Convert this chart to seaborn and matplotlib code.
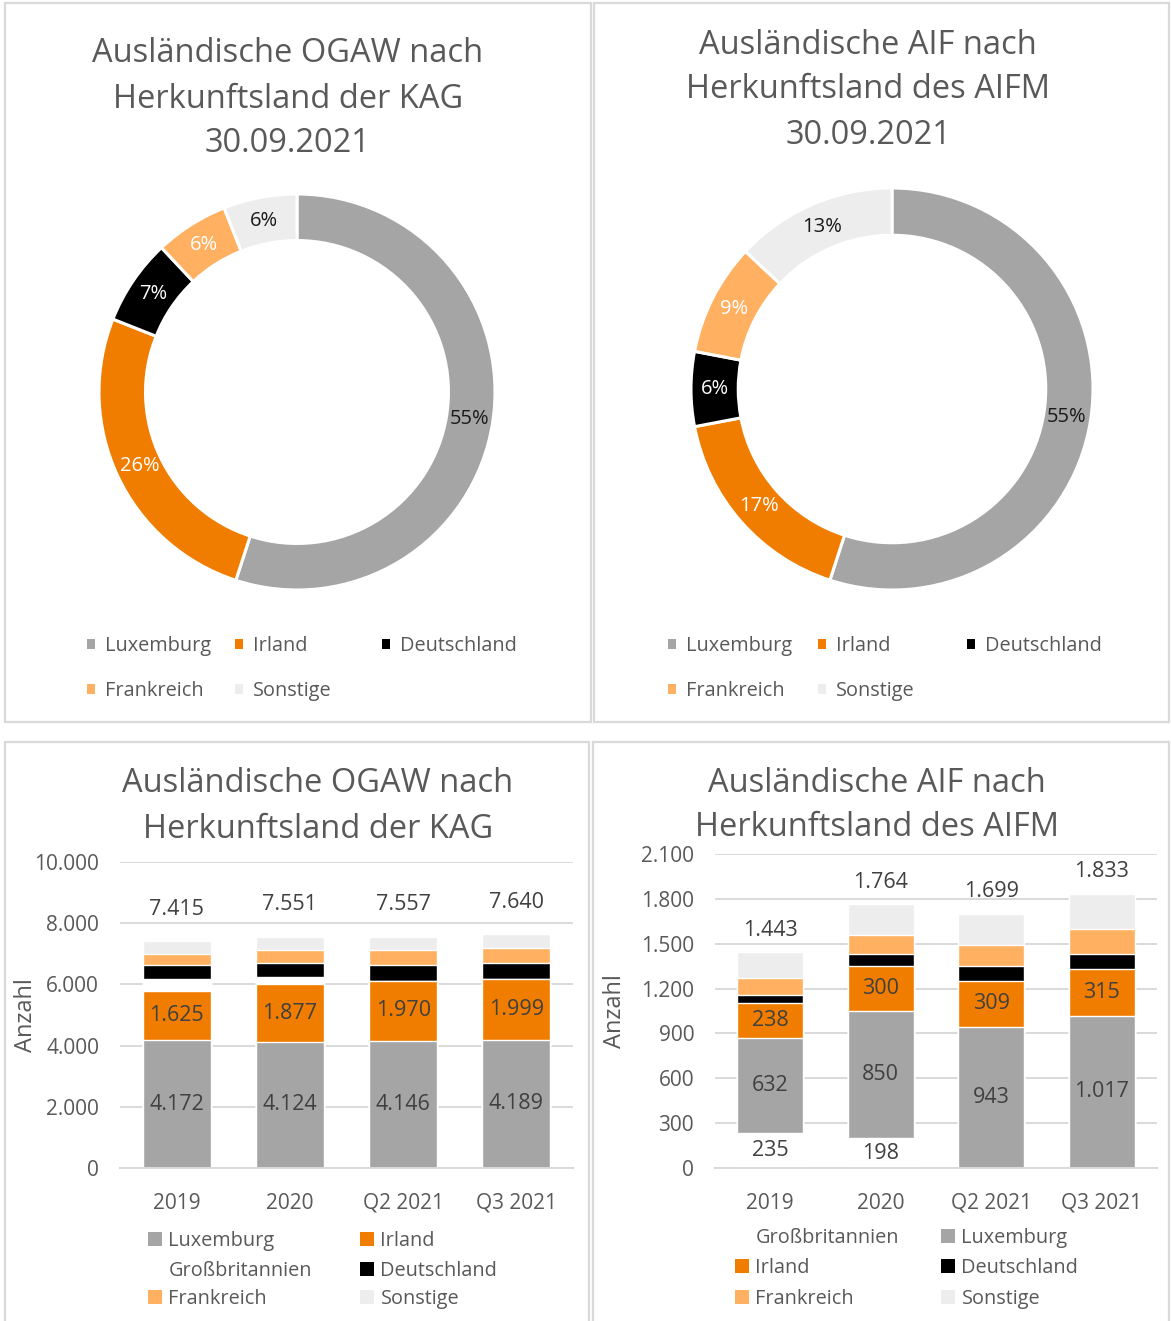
import numpy as np
import pandas as pd
import matplotlib
matplotlib.use("Agg")
import matplotlib.pyplot as plt
from matplotlib.patches import Patch, Rectangle
from matplotlib.ticker import FuncFormatter, MultipleLocator
import seaborn as sns

sns.set_style("white")
plt.rcParams['font.family'] = ['Open Sans', 'DejaVu Sans']

# ---- data ----
periods = ["2019", "2020", "Q2 2021", "Q3 2021"]

# OGAW (stack order: Luxemburg, Irland, Großbritannien, Deutschland, Frankreich, Sonstige)
ogaw_lux = [4172, 4124, 4146, 4189]
ogaw_irl = [1625, 1877, 1970, 1999]
ogaw_gb = [368, 230, 0, 0]
ogaw_de = [476, 475, 520, 520]
ogaw_fr = [358, 412, 490, 490]
ogaw_sonst = [416, 433, 431, 442]
ogaw_total = [7415, 7551, 7557, 7640]

# AIF (stack order: Großbritannien, Luxemburg, Irland, Deutschland, Frankreich, Sonstige)
aif_gb = [235, 198, 0, 0]
aif_lux = [632, 850, 943, 1017]
aif_irl = [238, 300, 309, 315]
aif_de = [55, 82, 98, 98]
aif_fr = [112, 127, 140, 170]
aif_sonst = [171, 207, 209, 233]
aif_total = [1443, 1764, 1699, 1833]

# donuts 30.09.2021 (in %)
donut_names = ["Luxemburg", "Irland", "Deutschland", "Frankreich", "Sonstige"]
ogaw_share = [55, 26, 7, 6, 6]
aif_share = [55, 17, 6, 9, 13]

colors = {"Luxemburg": "#A5A5A5", "Irland": "#F07D00", "Großbritannien": "#FFFFFF",
          "Deutschland": "#000000", "Frankreich": "#FFB061", "Sonstige": "#EDEDED"}
pct_colors = {"Luxemburg": "#1a1a1a", "Irland": "white", "Deutschland": "white",
              "Frankreich": "white", "Sonstige": "#1a1a1a"}

TXT = "#595959"
LBL = "#404040"
GRID = "#D9D9D9"

W, H = 1171, 1321
fig = plt.figure(figsize=(W / 100, H / 100), dpi=100)


def fx(px):
    return px / W


def fy(py):
    return 1 - py / H


def de_fmt(v):
    return f"{int(round(v)):,}".replace(",", ".")


# panel frames
for x0, y0, x1, y1 in [(5, 3, 591, 722), (594, 3, 1169, 722), (5, 742, 589, 1340), (593, 742, 1169, 1340)]:
    fig.patches.append(Rectangle((fx(x0), fy(y1)), fx(x1) - fx(x0), fy(y0) - fy(y1),
                                 transform=fig.transFigure, fill=False, edgecolor=GRID, lw=1.6))


def title(lines, x, ys, size=23.5):
    for line, y in zip(lines, ys):
        fig.text(fx(x), fy(y), line, ha="center", va="center", fontsize=size, color=TXT)


def legend_entry(name, x, y, size, box, gap):
    fig.legend(handles=[Patch(facecolor=colors[name], edgecolor="none")], labels=[name],
               loc="center left", bbox_to_anchor=(fx(x), fy(y)), frameon=False,
               borderpad=0, borderaxespad=0, handlelength=box, handleheight=box,
               handletextpad=gap, fontsize=size, labelcolor=TXT)


def donut(shares, cx, cy, r):
    ax = fig.add_axes([fx(cx - r), fy(cy + r), fx(2 * r), 2 * r / H])
    wedges, texts, autotexts = ax.pie(
        shares, colors=[colors[n] for n in donut_names], startangle=90, counterclock=False,
        autopct="%.0f%%", pctdistance=0.88,
        wedgeprops=dict(width=0.235, edgecolor="white", linewidth=2.2),
        textprops=dict(fontsize=14.5))
    for t, n in zip(autotexts, donut_names):
        t.set_color(pct_colors[n])
    ax.set_xlim(-1, 1)
    ax.set_ylim(-1, 1)
    return ax


def stacked(ax, df, levels, labelled, totals, ymax, step, total_off):
    cum = df[levels].cumsum(axis=1)
    cum["Zeitpunkt"] = df["Zeitpunkt"]
    for lev in reversed(levels):
        sns.barplot(data=cum, x="Zeitpunkt", y=lev, color=colors[lev], width=0.6,
                    saturation=1, errorbar=None, ax=ax)
    for lev in labelled:
        base = cum[lev] - df[lev]
        for i, v in enumerate(df[lev]):
            if v > 0:
                ax.text(i, base[i] + v / 2, de_fmt(v), ha="center", va="center",
                        fontsize=15.5, color=LBL)
    for i, t in enumerate(totals):
        ax.annotate(de_fmt(t), (i, t), xytext=(0, total_off), textcoords="offset points",
                    ha="center", va="center", fontsize=15.5, color=LBL)
    ax.set_xlim(-0.5, 3.5)
    ax.set_ylim(0, ymax)
    ax.yaxis.set_major_locator(MultipleLocator(step))
    ax.yaxis.set_major_formatter(FuncFormatter(lambda v, _: de_fmt(v)))
    ax.yaxis.grid(True, color=GRID, lw=1.4)
    ax.set_axisbelow(True)
    for s in ["top", "left", "right"]:
        ax.spines[s].set_visible(False)
    ax.spines["bottom"].set_color(GRID)
    ax.spines["bottom"].set_linewidth(1.4)
    ax.tick_params(axis="both", length=0, labelsize=15, labelcolor=TXT)
    ax.tick_params(axis="y", pad=15)
    ax.tick_params(axis="x", pad=18)
    ax.set_xlabel("")
    ax.set_ylabel("Anzahl", fontsize=17, color=TXT)


# ---- top left donut ----
title(["Ausländische OGAW nach", "Herkunftsland der KAG", "30.09.2021"], 288, [54, 99, 144])
donut(ogaw_share, 297, 392, 198)
for name, (x, y) in zip(donut_names, [(87, 646), (235, 646), (382, 646), (87, 691), (235, 691)]):
    legend_entry(name, x, y, 14.3, 0.42, 0.5)

# ---- top right donut ----
title(["Ausländische AIF nach", "Herkunftsland des AIFM", "30.09.2021"], 868, [45, 90, 135])
donut(aif_share, 892, 389, 201)
for name, (x, y) in zip(donut_names, [(668, 646), (818, 646), (967, 646), (668, 691), (818, 691)]):
    legend_entry(name, x, y, 14.3, 0.42, 0.5)

# ---- bottom left bars ----
ogaw_df = pd.DataFrame({"Zeitpunkt": periods, "Luxemburg": ogaw_lux, "Irland": ogaw_irl,
                        "Großbritannien": ogaw_gb, "Deutschland": ogaw_de,
                        "Frankreich": ogaw_fr, "Sonstige": ogaw_sonst})
ogaw_levels = ["Luxemburg", "Irland", "Großbritannien", "Deutschland", "Frankreich", "Sonstige"]
title(["Ausländische OGAW nach", "Herkunftsland der KAG"], 318, [784, 829])
ax3 = fig.add_axes([fx(120), fy(1168), fx(453), 306 / H])
stacked(ax3, ogaw_df, ogaw_levels, ["Luxemburg", "Irland"], ogaw_total, 10000, 2000, 23)
ax3.yaxis.set_label_coords(-0.181, 0.5)
ogaw_leg_pos = [(148, 1241), (360, 1241), (148, 1271), (360, 1271), (148, 1299), (360, 1299)]
for name, (x, y) in zip(ogaw_levels, ogaw_leg_pos):
    legend_entry(name, x, y, 14.3, 0.68, 0.35)

# ---- bottom right bars ----
aif_df = pd.DataFrame({"Zeitpunkt": periods, "Großbritannien": aif_gb, "Luxemburg": aif_lux,
                       "Irland": aif_irl, "Deutschland": aif_de,
                       "Frankreich": aif_fr, "Sonstige": aif_sonst})
aif_levels = ["Großbritannien", "Luxemburg", "Irland", "Deutschland", "Frankreich", "Sonstige"]
title(["Ausländische AIF nach", "Herkunftsland des AIFM"], 877, [783, 828])
ax4 = fig.add_axes([fx(715), fy(1168), fx(442), 314 / H])
stacked(ax4, aif_df, aif_levels, ["Großbritannien", "Luxemburg", "Irland"], aif_total, 2100, 300, 16)
ax4.yaxis.set_label_coords(-0.199, 0.5)
aif_leg_pos = [(735, 1238), (941, 1238), (735, 1268), (941, 1268), (735, 1299), (941, 1299)]
for name, (x, y) in zip(aif_levels, aif_leg_pos):
    legend_entry(name, x, y, 14.3, 0.68, 0.35)

fig.savefig("out.png", dpi=100)
